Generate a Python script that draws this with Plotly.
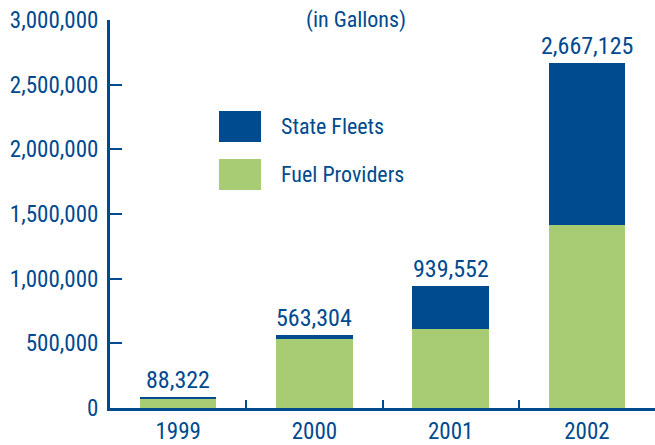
import plotly.graph_objects as go

years = ['1999', '2000', '2001', '2002']
fuel_providers = [68000, 530000, 613000, 1417000]
state_fleets = [20322, 33304, 326552, 1250125]
totals = [88322, 563304, 939552, 2667125]
y_ticks = [0, 500000, 1000000, 1500000, 2000000, 2500000, 3000000]

BLUE = '#004A8F'
GREEN = '#A7CC73'
FONT = 'Liberation Sans Narrow, Arial Narrow, Roboto Condensed, sans-serif'

W, H = 655, 445
# plot area in pixels
L, R, T, B = 110, 655, 20, 408


def px(x):
    return (x - L) / (R - L)


def py(y):
    return (B - y) / (B - T)


fig = go.Figure()

fig.add_trace(go.Bar(
    x=years, y=fuel_providers, name='Fuel Providers',
    marker=dict(color=GREEN, line=dict(width=0))
))
fig.add_trace(go.Bar(
    x=years, y=state_fleets, name='State Fleets',
    marker=dict(color=BLUE, line=dict(width=0))
))

# totals above bars (category index, since '1999' would be read as a serial number)
for i, t in enumerate(totals):
    fig.add_annotation(x=i, y=t, text=f'{t:,}', showarrow=False,
                       yanchor='bottom', yshift=1,
                       font=dict(size=24, color=BLUE, family=FONT))

fig.add_annotation(x=px(356), y=py(20), xref='paper', yref='paper',
                   text='(in Gallons)', showarrow=False, yanchor='middle',
                   font=dict(size=22, color=BLUE, family=FONT))

# legend drawn by hand with big swatches
legend_items = [('State Fleets', BLUE), ('Fuel Providers', GREEN)]
for i, (label, col) in enumerate(legend_items):
    top = 111 + i * 48
    fig.add_shape(type='rect', xref='paper', yref='paper',
                  x0=px(219), x1=px(261), y0=py(top), y1=py(top + 31),
                  fillcolor=col, line=dict(width=0))
    fig.add_annotation(xref='paper', yref='paper',
                       x=px(279), y=py(top + 15.5),
                       text=label, showarrow=False,
                       xanchor='left', yanchor='middle',
                       font=dict(size=22, color=BLUE, family=FONT))

fig.update_layout(
    width=W, height=H,
    barmode='stack',
    bargap=0.44,
    showlegend=False,
    margin=dict(l=L, r=W - R, t=T, b=H - B, pad=0),
    paper_bgcolor='white',
    plot_bgcolor='white',
    font=dict(family=FONT, color=BLUE, size=24),
    xaxis=dict(
        type='category', automargin=False,
        range=[-0.5, 3.5],
        showline=True, linecolor=BLUE, linewidth=3,
        ticks='inside', tickson='boundaries', ticklen=8, tickwidth=2, tickcolor=BLUE,
        tickfont=dict(size=23, color=BLUE, family=FONT),
        ticklabelstandoff=0, ticklabeloverflow='allow',
        showgrid=False
    ),
    yaxis=dict(
        automargin=False,
        range=[0, 3000000], tickvals=y_ticks,
        tickformat=',d',
        showline=True, linecolor=BLUE, linewidth=3,
        ticks='inside', ticklen=12, tickwidth=2, tickcolor=BLUE,
        tickfont=dict(size=23, color=BLUE, family=FONT),
        ticklabelstandoff=4, ticklabeloverflow='allow',
        showgrid=False, zeroline=False
    )
)

# drop the default 8px body margin so the figure sits at the page corner
fig.write_html('out.html', config={'displayModeBar': False},
               post_script="document.body.style.margin='0';")
